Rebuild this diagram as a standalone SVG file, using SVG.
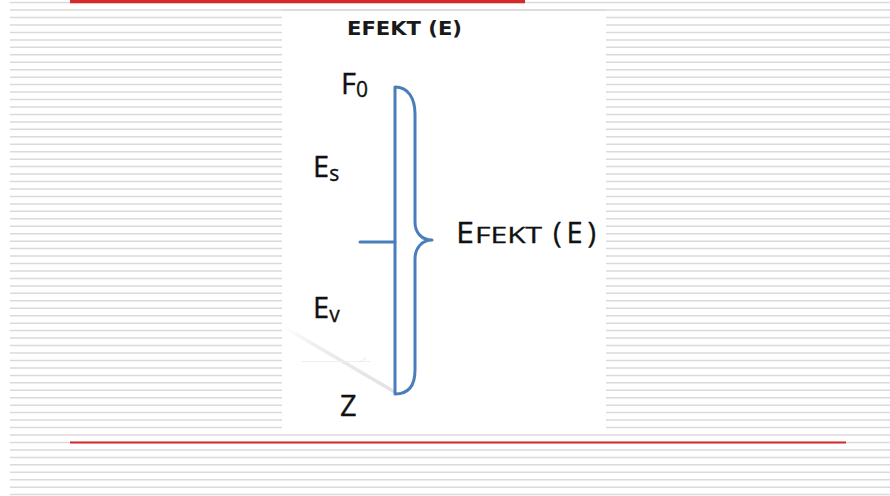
<svg xmlns="http://www.w3.org/2000/svg" width="890" height="496" viewBox="0 0 890 496">
<defs>
<linearGradient id="ghostGrad" x1="284" y1="327" x2="393" y2="391" gradientUnits="userSpaceOnUse">
<stop offset="0" stop-color="#ffffff"/>
<stop offset="0.3" stop-color="#ededed"/>
<stop offset="1" stop-color="#e2e2e2"/>
</linearGradient>
</defs>
<style>
.bg{fill:#ffffff}
.rule{stroke:#dadada;stroke-width:1.5;fill:none}
.red{stroke:#d42a2a;fill:none}
.lbl{font-family:"Open Sans","Liberation Sans",sans-serif;fill:#111111;stroke:#111111;stroke-width:0.35;font-size:29px}
.sub{font-size:21px}
.sc{font-size:22px}
.title{font-family:"DejaVu Sans","Liberation Sans",sans-serif;font-weight:bold;font-size:19px;fill:#1a1a1a}
.brace{stroke:#4a7ebb;stroke-width:3;fill:none;stroke-linejoin:round;stroke-linecap:round}
.ghost{fill:none;stroke-linecap:round}
</style>
<rect class="bg" x="0" y="0" width="890" height="496"/>
<g id="background-rules">
<path class="rule" d="M10 2.6H890M10 10.1H890M10 17.5H890M10 25H890M10 32.4H890M10 39.9H890M10 47.3H890M10 54.8H890M10 62.2H890M10 69.7H890M10 77.2H890M10 84.6H890M10 92.1H890M10 99.5H890M10 107H890M10 114.4H890M10 121.9H890M10 129.3H890M10 136.8H890M10 144.2H890M10 151.7H890M10 159.2H890M10 166.6H890M10 174.1H890M10 181.5H890M10 189H890M10 196.4H890M10 203.9H890M10 211.3H890M10 218.8H890M10 226.3H890M10 233.7H890M10 241.2H890M10 248.6H890M10 256.1H890M10 263.5H890M10 271H890M10 278.4H890M10 285.9H890M10 293.3H890M10 300.8H890M10 308.3H890M10 315.7H890M10 323.2H890M10 330.6H890M10 338.1H890M10 345.5H890M10 353H890M10 360.4H890M10 367.9H890M10 375.4H890M10 382.8H890M10 390.3H890M10 397.7H890M10 405.2H890M10 412.6H890M10 420.1H890M10 427.5H890M10 435H890M10 442.4H890M10 449.9H890M10 457.4H890M10 464.8H890M10 472.3H890M10 479.7H890M10 487.2H890M10 494.6H890"/>
<rect class="bg" x="282" y="13" width="324" height="418"/>
<path class="rule" d="M282 10.1H606"/>
<path class="red" stroke-width="3.5" d="M70 1.5H525"/>
<path class="red" stroke-width="2" d="M70 442.4H846"/>
</g>
<g id="title">
<text class="title" x="347" y="35" textLength="115" lengthAdjust="spacingAndGlyphs">EFEKT (E)</text>
</g>
<g id="ghost-arrow">
<path class="ghost" stroke="url(#ghostGrad)" stroke-width="3.5" d="M284 327L393 391"/>
<path class="ghost" stroke="#efefef" stroke-width="1.2" d="M302 361.5H370M366 358L360 362"/>
</g>
<g id="label-f0">
<text class="lbl" x="341" y="94">F<tspan class="sub" dy="3">0</tspan></text>
</g>
<g id="label-es">
<text class="lbl" x="313" y="177">E<tspan class="sub" dy="4">s</tspan></text>
</g>
<g id="label-ev">
<text class="lbl" x="313" y="318">E<tspan class="sub" dy="4">v</tspan></text>
</g>
<g id="label-z">
<text class="lbl" x="340" y="416">Z</text>
</g>
<g id="label-efekt">
<text class="lbl" x="456" y="243" textLength="18" lengthAdjust="spacingAndGlyphs">E</text>
<text class="lbl sc" x="475" y="243" textLength="67" lengthAdjust="spacingAndGlyphs">FEKT</text>
<text class="lbl" x="553" y="243" textLength="43" lengthAdjust="spacing">(E)</text>
</g>
<g id="connectors">
<path class="brace" d="M360 242H395"/>
<path class="brace" d="M395 394V87C408 87 415 98 415 114V222C415 233 422 240 432 240C422 240 415 248 415 259V370C415 386 408 394 395 394"/>
</g>
</svg>
